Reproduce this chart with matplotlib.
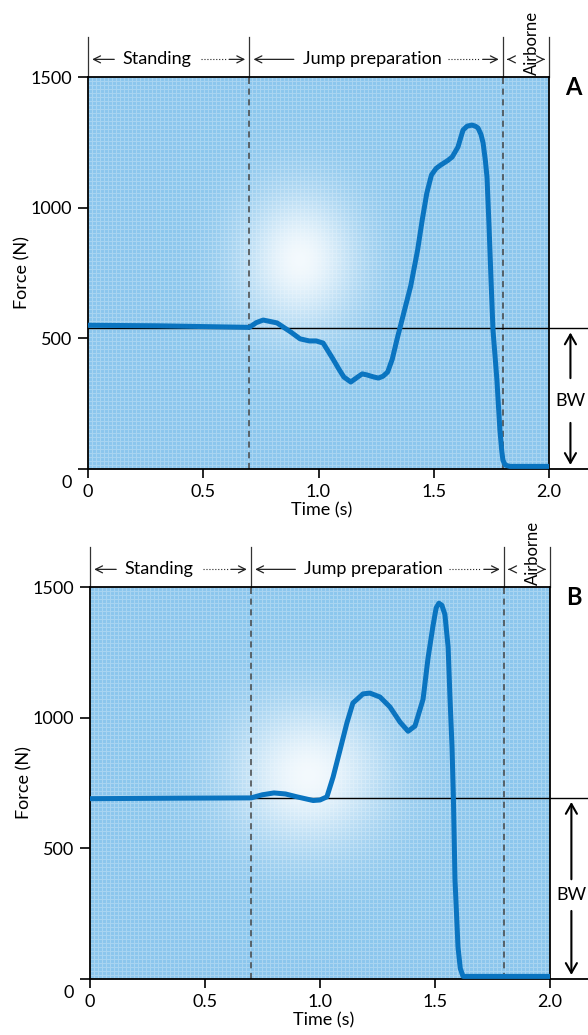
#Ground reaction force during a vertical jump
#two traces (A, B) with phase labels and body-weight marker
import numpy as np
import matplotlib
matplotlib.use("Agg")
import matplotlib.pyplot as plt
import matplotlib.transforms as mtransforms

plt.rcParams['font.family'] = ['Lato', 'DejaVu Sans']

#data
time_a = [0.0, 0.3, 0.5, 0.7, 0.73, 0.76, 0.82, 0.88, 0.92, 0.96, 0.99, 1.02, 1.06, 1.09, 1.11,
          1.14, 1.17, 1.19, 1.21, 1.24, 1.26, 1.28, 1.30, 1.32, 1.34, 1.37, 1.40, 1.43, 1.45,
          1.47, 1.49, 1.51, 1.53, 1.56, 1.58, 1.605, 1.627, 1.645, 1.666, 1.68, 1.692, 1.705,
          1.714, 1.724, 1.731, 1.740, 1.748, 1.757, 1.774, 1.787, 1.795, 1.80, 1.81, 1.83, 2.0]
force_a = [550, 548, 545, 542, 560, 570, 559, 524, 498, 490, 490, 482, 425, 380, 352,
           333, 352, 364, 360, 352, 348, 355, 371, 420, 494, 597, 700, 838, 953,
           1056, 1125, 1150, 1163, 1180, 1194, 1232, 1297, 1312, 1316, 1312, 1305, 1280,
           1248, 1180, 1117, 926, 735, 532, 341, 149, 70, 34, 15, 10, 10]

time_b = [0.0, 0.4, 0.7, 0.75, 0.8, 0.85, 0.9, 0.97, 1.0, 1.03, 1.057, 1.087, 1.117, 1.143,
          1.187, 1.217, 1.261, 1.304, 1.348, 1.383, 1.413, 1.448, 1.47, 1.491, 1.505, 1.517,
          1.53, 1.543, 1.557, 1.565, 1.574, 1.58, 1.587, 1.60, 1.61, 1.622, 2.0]
force_b = [690, 692, 693, 705, 712, 708, 697, 683, 685, 697, 773, 876, 980, 1056,
           1091, 1094, 1079, 1041, 983, 948, 968, 1070, 1230, 1350, 1420, 1438,
           1430, 1395, 1271, 1079, 888, 693, 379, 122, 40, 10, 10]

bw_a = 538
bw_b = 693
phase_edges = [0.0, 0.7, 1.8, 2.0]

curve_color = '#0a74c0'
fs = 13


def background(ax, t0, f0, st, sf):
    #stippled blue paper with a pale blotch
    t = np.linspace(0, 2, 461)
    f = np.linspace(1500, 0, 392)
    T, F = np.meshgrid(t, f)
    blot = np.exp(-((T - t0) / st) ** 2 - ((F - f0) / sf) ** 2)
    ii, jj = np.meshgrid(np.arange(392), np.arange(461), indexing='ij')
    grid = ((ii % 4 == 0) | (jj % 4 == 0)).astype(float)
    base = np.array([0.55, 0.78, 0.93])
    white = np.array([1.0, 1.0, 1.0])
    k = 0.9 * blot + 0.25 * grid * (1 - blot)
    img = base[None, None, :] * (1 - k[..., None]) + white[None, None, :] * k[..., None]
    ax.imshow(img, extent=[0, 2, 0, 1500], aspect='auto', zorder=0, interpolation='nearest')


def panel(ax, times, forces, bw, letter, blot, bw_text_f, bw_gap):
    background(ax, *blot)
    ax.plot(times, forces, color=curve_color, lw=3.6, solid_capstyle='round',
            solid_joinstyle='round', zorder=4)
    for x in (0.7, 1.8):
        ax.axvline(x, color='#444444', lw=1.1, ls=(0, (4, 3)), zorder=2)

    ax.set_xlim(0, 2)
    ax.set_ylim(0, 1500)
    ax.set_xticks([0, 0.5, 1.0, 1.5, 2.0])
    ax.set_xticklabels(['0', '0.5', '1.0', '1.5', '2.0'])
    ax.set_yticks([0, 500, 1000, 1500])
    ax.set_yticklabels(['', '500', '1000', '1500'])
    ax.tick_params(axis='y', direction='out', length=7.5, width=1.2, pad=4, labelsize=fs)
    ax.tick_params(axis='x', direction='out', length=6.5, width=1.2, pad=4, labelsize=fs)
    for s in ax.spines.values():
        s.set_linewidth(1.3)
    ax.text(-0.036, -0.036, '0', transform=ax.transAxes, ha='right', va='center', fontsize=fs)
    ax.set_xlabel('Time (s)', fontsize=fs)
    ax.xaxis.set_label_coords(0.507, -0.085)
    ax.set_ylabel('Force (N)', fontsize=fs)
    ax.yaxis.set_label_coords(-0.125, 0.5)

    #body weight line and arrow
    ax.plot([0, 2.17], [bw, bw], color='black', lw=1.0, clip_on=False, zorder=3)
    ax.plot([2.0, 2.17], [0, 0], color='black', lw=1.3, clip_on=False, zorder=3)
    ax.text(2.093, bw_text_f, 'BW', ha='center', va='center', fontsize=fs, clip_on=False)
    arrow = dict(arrowstyle='->,head_length=0.7,head_width=0.4', color='black', lw=1.5)
    ax.annotate('', xy=(2.093, bw - 5), xytext=(2.093, bw_text_f + bw_gap),
                arrowprops=arrow, annotation_clip=False)
    ax.annotate('', xy=(2.093, 5), xytext=(2.093, bw_text_f - bw_gap),
                arrowprops=arrow, annotation_clip=False)

    #phase labels above the plot
    tr = mtransforms.blended_transform_factory(ax.transData, ax.transAxes)
    for x in phase_edges:
        ax.plot([x, x], [1.0, 1.102], transform=tr, color='#333333', lw=0.9, clip_on=False)
    ya = 1.045
    thin = dict(arrowstyle='->,head_length=0.5,head_width=0.25', color='#222222', lw=0.9)
    segs = [(0.126, 0.006), (0.60, 0.694), (0.905, 0.706), (1.70, 1.794),
            (1.835, 1.806), (1.965, 1.994)]
    for start, end in segs:
        ax.annotate('', xy=(end, ya), xycoords=tr, xytext=(start, ya), textcoords=tr,
                    arrowprops=thin, annotation_clip=False)
    ax.plot([0.49, 0.60], [ya, ya], transform=tr, color='#222222', lw=0.8, ls=':', clip_on=False)
    ax.plot([1.56, 1.70], [ya, ya], transform=tr, color='#222222', lw=0.8, ls=':', clip_on=False)
    ax.text(0.30, ya, 'Standing', transform=tr, ha='center', va='center', fontsize=fs)
    ax.text(1.232, ya, 'Jump preparation', transform=tr, ha='center', va='center', fontsize=fs)
    ax.text(1.925, 1.004, 'Airborne', transform=tr, ha='center', va='bottom',
            rotation=90, fontsize=fs - 1, clip_on=False)
    ax.text(1.052, 0.972, letter, transform=ax.transAxes, ha='center', va='center',
            fontsize=17, fontweight='bold')


fig = plt.figure(figsize=(5.88, 10.35), dpi=100)
ax_a = fig.add_axes([88 / 588, 1 - 469 / 1035, 461 / 588, 392 / 1035])
ax_b = fig.add_axes([90 / 588, 1 - 979 / 1035, 460 / 588, 392 / 1035])

panel(ax_a, time_a, force_a, bw_a, 'A', (0.92, 800, 0.26, 270), 262, 75)
panel(ax_b, time_b, force_b, bw_b, 'B', (0.95, 780, 0.34, 280), 321, 50)

fig.savefig('out.png', dpi=100)
